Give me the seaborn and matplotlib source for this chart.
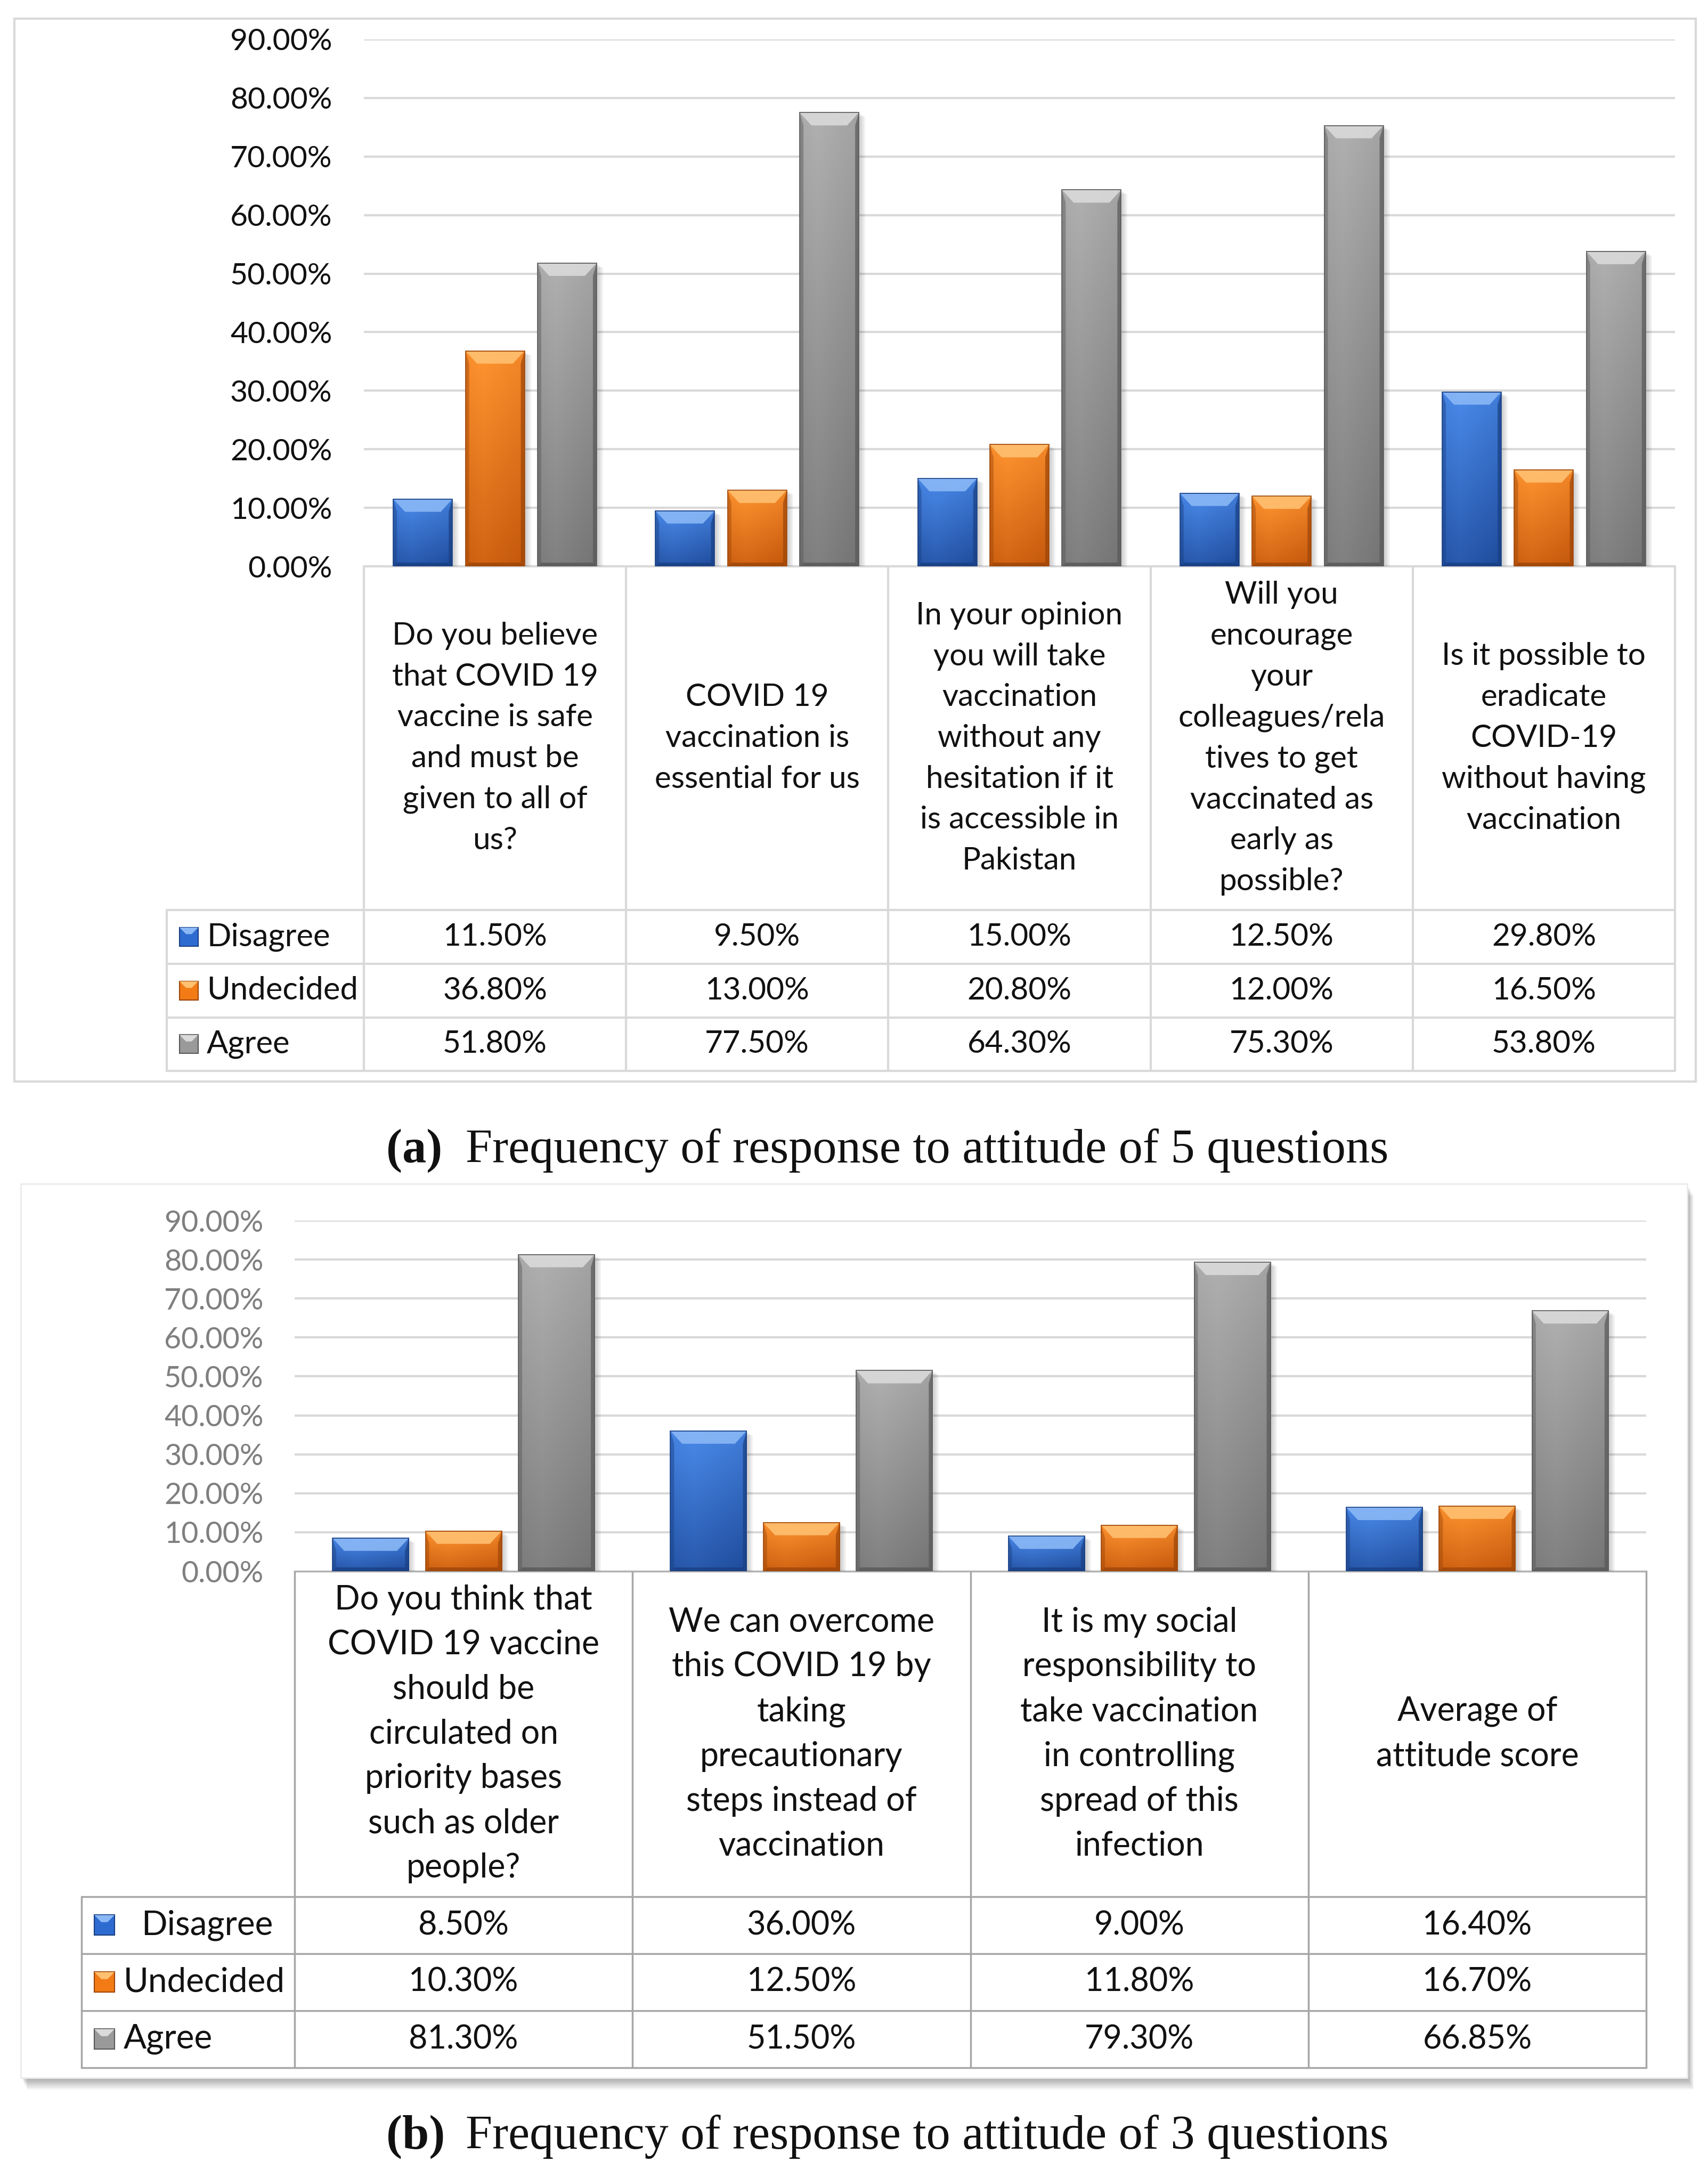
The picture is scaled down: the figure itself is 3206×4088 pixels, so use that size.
import numpy as np
import pandas as pd
import matplotlib
matplotlib.use("Agg")
import matplotlib.pyplot as plt
import seaborn as sns
from matplotlib.colors import LinearSegmentedColormap, to_rgb
from matplotlib.patches import Rectangle, Polygon

# ---------------- data ----------------
series = ["Disagree", "Undecided", "Agree"]

questions_a = [
    "Do you believe\nthat COVID 19\nvaccine is safe\nand must be\ngiven to all of\nus?",
    "COVID 19\nvaccination is\nessential for us",
    "In your opinion\nyou will take\nvaccination\nwithout any\nhesitation if it\nis accessible in\nPakistan",
    "Will you\nencourage\nyour\ncolleagues/rela\ntives to get\nvaccinated as\nearly as\npossible?",
    "Is it possible to\neradicate\nCOVID-19\nwithout having\nvaccination",
]
disagree_a = [11.50, 9.50, 15.00, 12.50, 29.80]
undecided_a = [36.80, 13.00, 20.80, 12.00, 16.50]
agree_a = [51.80, 77.50, 64.30, 75.30, 53.80]

questions_b = [
    "Do you think that\nCOVID 19 vaccine\nshould be\ncirculated on\npriority bases\nsuch as older\npeople?",
    "We can overcome\nthis COVID 19 by\ntaking\nprecautionary\nsteps instead of\nvaccination",
    "It is my social\nresponsibility to\ntake vaccination\nin controlling\nspread of this\ninfection",
    "Average of\nattitude score",
]
disagree_b = [8.50, 36.00, 9.00, 16.40]
undecided_b = [10.30, 12.50, 11.80, 16.70]
agree_b = [81.30, 51.50, 79.30, 66.85]

yticks = [0, 10, 20, 30, 40, 50, 60, 70, 80, 90]
caption_a_tag, caption_a = "(a)", "Frequency of response to attitude of 5 questions"
caption_b_tag, caption_b = "(b)", "Frequency of response to attitude of 3 questions"

# ---------------- style ----------------
W, H, DPI = 3206, 4088, 100
sns.set_theme(style="white")
plt.rcParams["font.family"] = ["Lato", "DejaVu Sans"]

base = {"Disagree": "#2E6BD1", "Undecided": "#F27B16", "Agree": "#9A9A9A"}
shade = {  # light, dark, highlight, edge
    "Disagree": ("#4A8AEA", "#1F4C9C", "#8AB8F6", "#193F82"),
    "Undecided": ("#FF9430", "#C4570C", "#FFC070", "#9C4508"),
    "Agree": ("#B0B0B0", "#747474", "#DADADA", "#585858"),
}

fig = plt.figure(figsize=(W / DPI, H / DPI), dpi=DPI)
ov = fig.add_axes([0, 0, 1, 1], zorder=0)
ov.set_xlim(0, W)
ov.set_ylim(H, 0)
ov.axis("off")


def px_axes(l, t, r, b):
    ax = fig.add_axes([l / W, 1 - b / H, (r - l) / W, (b - t) / H], zorder=2)
    ax.set_facecolor("none")
    return ax


def make_df(qs, d, u, a):
    rows = []
    for name, vals in zip(series, [d, u, a]):
        for q, v in zip(qs, vals):
            rows.append({"question": q, "series": name, "value": v})
    return pd.DataFrame(rows)


def style_bars(ax, n, L, R, ytop, ybot, ymax):
    sx = (R - L) / n
    sy = (ybot - ytop) / ymax
    dxt, dyt = 22 / sx, 24 / sy
    ds, db = 7 / sx, 7 / sy
    ny, nx = 120, 40
    t = np.linspace(0, 1, ny)[:, None]
    u = np.linspace(0, 1, nx)[None, :]
    grad = 0.78 * t + 0.22 * np.abs(u - 0.3) / 0.7
    for p in list(ax.patches):
        x, w, h = p.get_x(), p.get_width(), p.get_height()
        if h <= 0:
            continue
        fc = np.array(p.get_facecolor()[:3])
        key = min(series, key=lambda s: np.sum((np.array(to_rgb(base[s])) - fc) ** 2))
        light, dark, hi, edge = shade[key]
        # soft shadow on the right
        for k in range(1, 5):
            ax.add_patch(Rectangle((x + k * 3 / sx, 0), w, h - k * 2 / sy, facecolor="black",
                                   edgecolor="none", alpha=0.05, zorder=2.5))
        cmap = LinearSegmentedColormap.from_list(key, [light, dark])
        ax.imshow(grad, extent=[x, x + w, 0, h], origin="upper", aspect="auto",
                  cmap=cmap, vmin=0, vmax=1, zorder=3, interpolation="bilinear")
        top = [(x, h), (x + w, h), (x + w - dxt, h - dyt), (x + dxt, h - dyt)]
        ax.add_patch(Polygon(top, closed=True, facecolor=hi, edgecolor="none", zorder=4, alpha=0.9))
        right = [(x + w, h), (x + w - ds, h - dyt), (x + w - ds, db), (x + w, 0)]
        ax.add_patch(Polygon(right, closed=True, facecolor=edge, edgecolor="none", zorder=4, alpha=0.7))
        left = [(x, h), (x + ds, h - dyt), (x + ds, db), (x, 0)]
        ax.add_patch(Polygon(left, closed=True, facecolor=edge, edgecolor="none", zorder=4, alpha=0.45))
        bot = [(x, 0), (x + w, 0), (x + w - ds, db), (x + ds, db)]
        ax.add_patch(Polygon(bot, closed=True, facecolor=edge, edgecolor="none", zorder=4, alpha=0.8))
        ax.add_patch(Rectangle((x, 0), w, h, facecolor="none", edgecolor=edge, lw=1.2, zorder=5))


def panel(qs, d, u, a, L, R, ytop, ybot, tick_color, tick_fs, tick_pad, grid_color):
    n = len(qs)
    ax = px_axes(L, ytop, R, ybot)
    df = make_df(qs, d, u, a)
    sns.barplot(data=df, x="question", y="value", hue="series", order=qs,
                hue_order=series, palette=base, width=0.825, gap=0.18,
                saturation=1, legend=False, ax=ax, zorder=3)
    style_bars(ax, n, L, R, ytop, ybot, 90)
    ax.set_xlim(-0.5, n - 0.5)
    ax.set_ylim(0, 90)
    ax.set_yticks(yticks)
    ax.set_yticklabels([f"{v:.2f}%" for v in yticks], color=tick_color, fontsize=tick_fs)
    ax.tick_params(axis="y", length=0, pad=tick_pad)
    ax.set_xticks([])
    ax.set_xlabel("")
    ax.set_ylabel("")
    ax.yaxis.grid(True, color=grid_color, lw=3, zorder=0)
    ax.set_axisbelow(True)
    for s in ax.spines.values():
        s.set_visible(False)
    return ax


def table(qs, vals, L, R, y0, rows_y, legL, line_color, lw, head_fs, head_ls,
          val_fs, leg_fs, mk, mk_x, txt_x):
    n = len(qs)
    bounds = np.linspace(L, R, n + 1)
    ybot = rows_y[-1]
    ov.plot([L, R], [y0, y0], color=line_color, lw=lw, zorder=1)
    for bx in bounds:
        ov.plot([bx, bx], [y0, ybot], color=line_color, lw=lw, zorder=1)
    for ry in rows_y:
        ov.plot([legL, R], [ry, ry], color=line_color, lw=lw, zorder=1)
    ov.plot([legL, legL], [rows_y[0], ybot], color=line_color, lw=lw, zorder=1)
    for i, q in enumerate(qs):
        cx = (bounds[i] + bounds[i + 1]) / 2
        ov.text(cx, (y0 + rows_y[0]) / 2, q, ha="center", va="center",
                fontsize=head_fs, linespacing=head_ls, color="#111111")
    for r, (name, v) in enumerate(zip(series, vals)):
        cy = (rows_y[r] + rows_y[r + 1]) / 2
        light, dark, hi, edge = shade[name]
        ov.add_patch(Rectangle((mk_x, cy - mk / 2), mk, mk, facecolor=base[name],
                               edgecolor=edge, lw=1.5, zorder=2))
        ov.add_patch(Polygon([(mk_x, cy - mk / 2), (mk_x + mk, cy - mk / 2),
                              (mk_x + mk * 0.65, cy - mk * 0.15), (mk_x + mk * 0.35, cy - mk * 0.15)],
                             closed=True, facecolor=hi, edgecolor="none", zorder=3))
        ov.text(txt_x[r], cy, name, ha="left", va="center", fontsize=leg_fs, color="#111111")
        for i in range(n):
            cx = (bounds[i] + bounds[i + 1]) / 2
            ov.text(cx, cy, f"{v[i]:.2f}%", ha="center", va="center",
                    fontsize=val_fs, color="#111111")


# ---------------- panel (a) ----------------
ov.add_patch(Rectangle((27, 35), 3183 - 27, 2030 - 35, facecolor="white",
                       edgecolor="#D9D9D9", lw=3, zorder=0.5))
La, Ra, ytop_a, ybot_a = 683, 3144, 74, 1063
panel(questions_a, disagree_a, undecided_a, agree_a, La, Ra, ytop_a, ybot_a,
      "#111111", 41, 43, "#D9D9D9")
table(questions_a, [disagree_a, undecided_a, agree_a], La, Ra, ybot_a,
      [1708, 1809, 1910, 2010], 313, "#D9D9D9", 3, 42, 1.55, 42, 43, 35, 337,
      [388, 388, 388])

# ---------------- panel (b) ----------------
fx0, fy0, fx1, fy1 = 39, 2222, 3167, 3900
for i in range(10, 0, -1):
    ov.add_patch(Rectangle((fx0 + i * 1.2, fy0 + i * 2.2), fx1 - fx0, fy1 - fy0,
                           facecolor="#000000", edgecolor="none", alpha=0.035, zorder=0.3))
ov.add_patch(Rectangle((fx0, fy0), fx1 - fx0, fy1 - fy0, facecolor="white",
                       edgecolor="#EBEBEB", lw=2, zorder=0.5))
Lb, Rb, ytop_b, ybot_b = 553, 3090, 2291, 2949
panel(questions_b, disagree_b, undecided_b, agree_b, Lb, Rb, ytop_b, ybot_b,
      "#7F7F7F", 40, 42, "#D9D9D9")
table(questions_b, [disagree_b, undecided_b, agree_b], Lb, Rb, ybot_b,
      [3560, 3667, 3774, 3881], 153, "#A6A6A6", 2.5, 45, 1.55, 44, 46, 38, 177,
      [265, 232, 232])

# ---------------- captions ----------------
cap_fs = 65
for tag, txt, yb in [(caption_a_tag, caption_a, 2182), (caption_b_tag, caption_b, 4033)]:
    ov.text(725, yb, tag, ha="left", va="baseline", fontsize=cap_fs, fontweight="bold",
            family=["Liberation Serif", "DejaVu Serif"], color="#111111")
    ov.text(874, yb, txt, ha="left", va="baseline", fontsize=cap_fs,
            family=["Liberation Serif", "DejaVu Serif"], color="#111111")

fig.savefig("out.png", dpi=DPI, facecolor="white")
